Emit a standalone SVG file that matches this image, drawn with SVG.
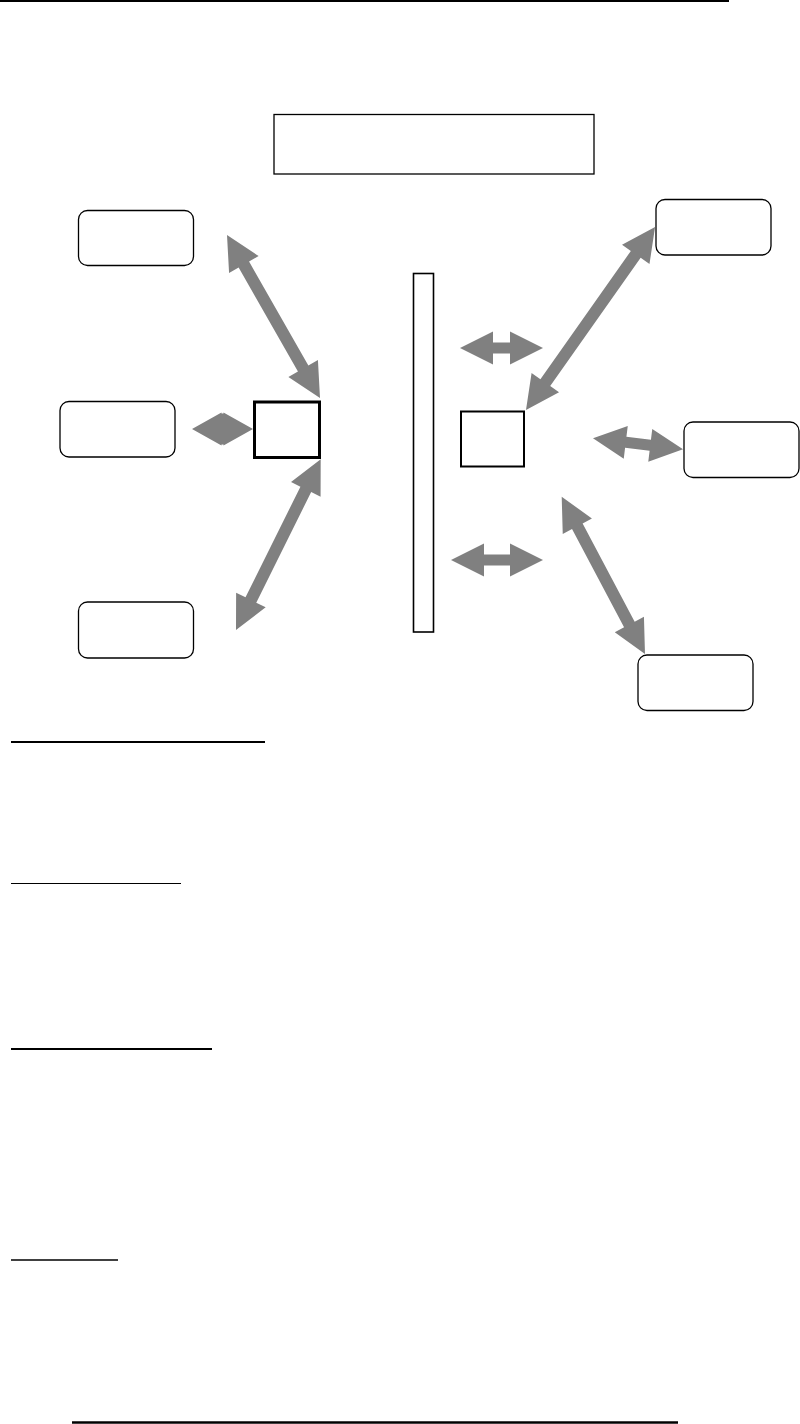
<svg xmlns="http://www.w3.org/2000/svg" width="800" height="1424" viewBox="0 0 800 1424">
<style>
.rbox{fill:#fff;stroke:#000;stroke-width:1.3}
.sq{fill:#fff;stroke:#000}
.arr{fill:#808080;stroke:none}
.rule{stroke:#000}
</style>
<rect x="0" y="0" width="800" height="1424" fill="#fff"/>
<g id="rules">
<line class="rule" x1="0" y1="1" x2="729" y2="1" stroke-width="2"/>
<line class="rule" x1="11" y1="742" x2="265" y2="742" stroke-width="2.2"/>
<line class="rule" x1="11" y1="883.5" x2="181" y2="883.5" stroke-width="1.2"/>
<line class="rule" x1="11" y1="1049" x2="212" y2="1049" stroke-width="2"/>
<line class="rule" x1="11" y1="1260" x2="118" y2="1260" stroke-width="1.4"/>
<line class="rule" x1="72" y1="1422.5" x2="678" y2="1422.5" stroke-width="2.4"/>
</g>
<g id="title"><rect class="sq" x="274" y="114.5" width="320" height="59.5" stroke-width="1.3"/></g>
<g id="box-tl"><rect class="rbox" x="78.5" y="210.5" width="115" height="55" rx="9"/></g>
<g id="box-ml"><rect class="rbox" x="60" y="401.5" width="115" height="55.5" rx="9"/></g>
<g id="box-bl"><rect class="rbox" x="78.5" y="602" width="115" height="56" rx="9"/></g>
<g id="box-tr"><rect class="rbox" x="656" y="199.5" width="115" height="55.5" rx="9"/></g>
<g id="box-mr"><rect class="rbox" x="684" y="422" width="115" height="55.5" rx="9"/></g>
<g id="box-br"><rect class="rbox" x="638" y="655" width="115" height="55.5" rx="9"/></g>
<g id="hub-left"><rect class="sq" x="254.5" y="402" width="65" height="55.5" stroke-width="3"/></g>
<g id="hub-right"><rect class="sq" x="461" y="411.5" width="63" height="55" stroke-width="2"/></g>
<g id="bar"><rect class="sq" x="413.5" y="273.5" width="20" height="358.5" stroke-width="1.6"/></g>
<g id="connectors">
<polygon class="arr" transform="translate(227,235) rotate(60.3)" points="0,0 34,-17 34,-6 153.7,-6 153.7,-17 187.7,0 153.7,17 153.7,6 34,6 34,17"/>
<polygon class="arr" transform="translate(192,429)" points="0,0 29.5,-16.5 29.5,-15.5 31.5,-15.5 31.5,-16.5 61,0 31.5,16.5 31.5,15.5 29.5,15.5 29.5,16.5"/>
<polygon class="arr" transform="translate(236,630) rotate(-63.6)" points="0,0 33.5,-16.5 33.5,-6 157,-6 157,-16.5 190.5,0 157,16.5 157,6 33.5,6 33.5,16.5"/>
<polygon class="arr" transform="translate(460,348)" points="0,0 33,-16.5 33,-5.5 50,-5.5 50,-16.5 83,0 50,16.5 50,5.5 33,5.5 33,16.5"/>
<polygon class="arr" transform="translate(451,560)" points="0,0 33,-16.5 33,-5.5 59,-5.5 59,-16.5 92,0 59,16.5 59,5.5 33,5.5 33,16.5"/>
<polygon class="arr" transform="translate(526,410) rotate(-54.8)" points="0,0 33.5,-16.8 33.5,-6 190.4,-6 190.4,-16.8 223.9,0 190.4,16.8 190.4,6 33.5,6 33.5,16.8"/>
<polygon class="arr" transform="translate(593,438.3) rotate(6.97)" points="0,0 33,-16.5 33,-5.5 57.7,-5.5 57.7,-16.5 90.7,0 57.7,16.5 57.7,5.5 33,5.5 33,16.5"/>
<polygon class="arr" transform="translate(561.7,496.7) rotate(62.1)" points="0,0 33.4,-16.5 33.4,-6 144.6,-6 144.6,-16.5 178,0 144.6,16.5 144.6,6 33.4,6 33.4,16.5"/>
</g>
</svg>
